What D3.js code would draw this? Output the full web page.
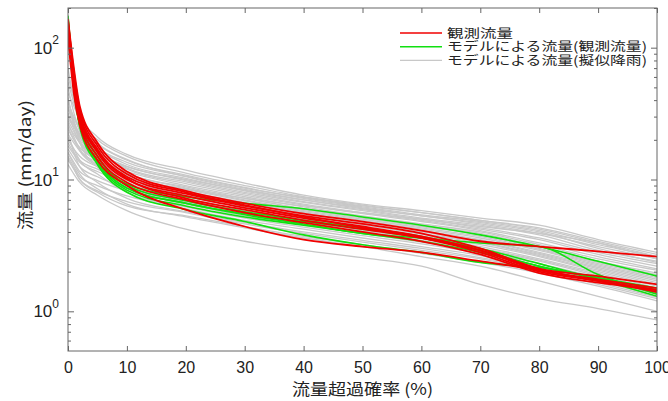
<!DOCTYPE html>
<html>
<head>
<meta charset="utf-8">
<script src="https://cdn.jsdelivr.net/npm/d3@7"></script>
<style>
  body { margin: 0; background: #fff; }
  svg { display: block; }
</style>
</head>
<body>
<script>
"use strict"

// exceedance probability (%) grid used by every curve
var exceedance = [0, 1, 2, 5, 10, 20, 30, 40, 50, 60, 70, 80, 90, 100];

// observed flow (mm/day)
var observed = [
  [165, 70, 36, 19, 11.5, 8.2, 6.6, 5.5, 4.8, 4.1, 3.4, 3.1, 2.85, 2.6],
  [150, 60, 32, 17, 10.5, 7.8, 6.3, 5.3, 4.6, 3.9, 3.0, 2.1, 1.7, 1.45],
  [140, 55, 30, 16, 10.0, 7.5, 6.1, 5.1, 4.4, 3.7, 2.9, 2.05, 1.75, 1.5],
  [160, 65, 34, 18, 11.0, 8.0, 6.4, 5.2, 4.3, 3.6, 2.8, 2.0, 1.7, 1.4],
  [130, 50, 28, 15, 9.5, 7.0, 5.6, 4.7, 4.0, 3.4, 2.7, 1.95, 1.65, 1.45],
  [120, 45, 26, 14, 9.0, 5.9, 4.4, 3.5, 3.1, 2.8, 2.4, 2.05, 1.7, 1.45],
  [145, 58, 30, 16.5, 10.2, 7.2, 5.9, 4.9, 4.2, 3.6, 2.9, 2.1, 1.85, 1.6]
];

// model flow driven by observed rainfall
var modelObs = [
  [170, 55, 28, 15, 9.2, 7.4, 6.6, 6.0, 5.2, 4.5, 3.8, 3.1, 2.4, 1.85],
  [150, 50, 26, 14, 8.6, 6.6, 5.4, 4.6, 3.9, 3.6, 3.3, 3.1, 1.9, 1.35],
  [150, 50, 25, 13, 8.0, 5.9, 4.8, 3.8, 3.2, 2.8, 2.35, 2.15, 1.8, 1.45],
  [160, 52, 27, 14, 8.6, 6.6, 5.5, 4.8, 4.2, 3.6, 2.9, 2.2, 1.8, 1.5],
  [175, 58, 29, 15, 9.0, 6.9, 5.7, 4.9, 4.3, 3.7, 3.0, 2.3, 1.75, 1.3],
  [155, 48, 26, 13.5, 8.3, 6.3, 5.2, 4.5, 3.9, 3.4, 2.8, 2.2, 1.75, 1.4]
];

// model flow driven by synthetic rainfall
var modelSyn = [
  [60, 42, 31, 21, 15.5, 11.8, 9.4, 7.6, 6.5, 5.8, 5.1, 4.5, 3.5, 2.8],
  [45, 36, 28, 20, 15, 11.2, 9.0, 7.4, 6.4, 5.6, 4.9, 4.3, 3.4, 2.7],
  [38, 30, 25, 18.5, 14, 10.8, 8.7, 7.2, 6.2, 5.4, 4.8, 4.1, 3.2, 2.6],
  [55, 38, 28, 19, 14.2, 10.5, 8.4, 7.0, 6.0, 5.3, 4.6, 3.9, 3.1, 2.5],
  [30, 26, 22, 17, 13, 10.2, 8.2, 6.8, 5.9, 5.1, 4.5, 3.8, 2.9, 2.4],
  [26, 22, 19, 15.5, 12.5, 9.8, 8.0, 6.7, 5.8, 5.0, 4.3, 3.6, 2.8, 2.3],
  [70, 40, 27, 17, 12.2, 9.6, 7.8, 6.5, 5.6, 4.9, 4.2, 3.5, 2.7, 2.2],
  [34, 27, 22, 16, 12, 9.3, 7.6, 6.4, 5.5, 4.8, 4.1, 3.3, 2.6, 2.1],
  [24, 20, 17.5, 14, 11.5, 9.0, 7.4, 6.2, 5.3, 4.6, 4.0, 3.2, 2.5, 2.05],
  [40, 28, 21, 15, 11.2, 8.8, 7.2, 6.0, 5.2, 4.5, 3.9, 3.1, 2.4, 1.95],
  [22, 19, 16.5, 13.5, 11, 8.6, 7.0, 5.9, 5.1, 4.4, 3.8, 3.0, 2.35, 1.9],
  [50, 32, 23, 15, 10.8, 8.4, 6.9, 5.8, 5.0, 4.3, 3.7, 2.95, 2.3, 1.85],
  [28, 23, 19, 14, 10.5, 8.2, 6.7, 5.7, 4.9, 4.2, 3.6, 2.9, 2.25, 1.8],
  [20, 17, 15, 12.5, 10.2, 8.0, 6.6, 5.6, 4.8, 4.1, 3.5, 2.8, 2.2, 1.75],
  [36, 26, 20, 14, 10, 7.8, 6.4, 5.4, 4.7, 4.0, 3.45, 2.75, 2.15, 1.7],
  [19, 16, 14, 12, 9.8, 7.6, 6.2, 5.3, 4.6, 3.9, 3.35, 2.7, 2.1, 1.65],
  [32, 24, 19, 13.5, 9.6, 7.4, 6.1, 5.2, 4.5, 3.85, 3.3, 2.65, 2.05, 1.6],
  [18, 15.5, 13.5, 11.5, 9.3, 7.2, 5.9, 5.0, 4.35, 3.75, 3.2, 2.6, 2.0, 1.55],
  [25, 20, 16.5, 12.5, 9.0, 7.0, 5.8, 4.9, 4.25, 3.65, 3.1, 2.5, 1.95, 1.5],
  [17, 14.5, 12.5, 10.5, 8.6, 6.8, 5.6, 4.75, 4.1, 3.55, 3.0, 2.45, 1.9, 1.45],
  [42, 27, 19, 12.5, 8.8, 6.7, 5.5, 4.6, 4.0, 3.45, 2.95, 2.4, 1.85, 1.42],
  [16, 13.5, 11.5, 9.8, 8.2, 6.5, 5.3, 4.5, 3.9, 3.35, 2.85, 2.3, 1.8, 1.38],
  [21, 17, 14, 11, 8.0, 6.2, 5.1, 4.35, 3.75, 3.25, 2.75, 2.2, 1.75, 1.35],
  [15, 12.5, 10.5, 9.0, 7.5, 6.0, 4.9, 4.2, 3.6, 3.1, 2.65, 2.15, 1.7, 1.3],
  [14, 12, 10, 8.2, 6.8, 5.6, 4.6, 3.9, 3.35, 2.9, 2.5, 2.05, 1.6, 1.25],
  [23, 16, 12.5, 9.5, 7.2, 5.7, 4.7, 4.0, 3.45, 3.0, 2.55, 2.1, 1.65, 1.28],
  [14.5, 12, 10, 8, 6.3, 5.3, 4.4, 3.7, 3.2, 2.75, 2.35, 1.95, 1.55, 1.2],
  [27, 21, 17, 13, 10.4, 8.5, 7.2, 6.3, 5.6, 5.0, 4.4, 3.9, 3.3, 2.6],
  [35, 29, 24, 17.5, 13.5, 10.6, 8.6, 7.3, 6.3, 5.6, 4.9, 4.2, 3.3, 2.5],
  [29, 25, 21, 16, 12.6, 10, 8.3, 7.0, 6.1, 5.3, 4.7, 4.0, 3.0, 2.35],
  [16, 13, 11, 8.5, 6.5, 5.2, 4.3, 3.6, 3.1, 2.6, 2.2, 1.7, 1.3, 1.0],
  [13, 11, 9.5, 7.6, 5.8, 4.2, 3.4, 2.9, 2.55, 2.2, 1.6, 1.25, 1.05, 0.86]
];

var legendLabels = ["観測流量", "モデルによる流量(観測流量)", "モデルによる流量(擬似降雨)"];
var legendWidths = [66, 200, 200];
var legendColors = ["#f00000", "#10e010", "#c8c8c8"];
var xTicks = [0, 10, 20, 30, 40, 50, 60, 70, 80, 90, 100];
var yTicks = [1, 10, 100];
var yMinor = [0.6, 0.7, 0.8, 0.9, 2, 3, 4, 5, 6, 7, 8, 9, 20, 30, 40, 50, 60, 70, 80, 90, 200];

var width = 668, height = 401;
var plotL = 68, plotR = 657, plotT = 8, plotB = 351;
var numFont = "'Liberation Sans Narrow', 'Arial Narrow', 'Liberation Sans', sans-serif";
var cjkFont = "'Noto Sans CJK JP', sans-serif";

var svg = d3.select("body").append("svg")
            .attr("width", width)
            .attr("height", height);

var x = d3.scaleLinear().domain([0, 100]).range([plotL, plotR]);
var y = d3.scaleLog().domain([0.5, 200]).range([plotB, plotT]);

svg.append("clipPath").attr("id", "plot")
   .append("rect")
   .attr("x", plotL).attr("y", plotT)
   .attr("width", plotR - plotL).attr("height", plotB - plotT);

var line = d3.line()
             .x(function(d, i) { return x(exceedance[i]); })
             .y(function(d) { return y(d); })
             .curve(d3.curveMonotoneX);

var curves = svg.append("g").attr("clip-path", "url(#plot)").attr("fill", "none");

curves.selectAll(".syn").data(modelSyn).enter().append("path")
      .attr("class", "syn")
      .attr("d", line)
      .attr("stroke", legendColors[2])
      .attr("stroke-width", 1.3);

curves.selectAll(".mod").data(modelObs).enter().append("path")
      .attr("class", "mod")
      .attr("d", line)
      .attr("stroke", legendColors[1])
      .attr("stroke-width", 1.6);

curves.selectAll(".obs").data(observed).enter().append("path")
      .attr("class", "obs")
      .attr("d", line)
      .attr("stroke", legendColors[0])
      .attr("stroke-width", 1.8);

// frame
svg.append("rect")
   .attr("x", plotL).attr("y", plotT)
   .attr("width", plotR - plotL).attr("height", plotB - plotT)
   .attr("fill", "none")
   .attr("stroke", "#666")
   .attr("stroke-width", 1);

function styleAxis(g) {
  g.select(".domain").remove();
  g.selectAll(".tick line").attr("stroke", "#666");
}

// x axes (ticks point inward)
svg.append("g")
   .attr("transform", "translate(0," + plotB + ")")
   .call(d3.axisBottom(x).tickValues(xTicks).tickSizeInner(-5).tickSizeOuter(0).tickPadding(11))
   .call(styleAxis)
   .selectAll("text")
   .attr("font-family", numFont)
   .attr("font-size", 16)
   .attr("fill", "#222");

svg.append("g")
   .attr("transform", "translate(0," + plotT + ")")
   .call(d3.axisTop(x).tickValues(xTicks).tickSizeInner(-5).tickSizeOuter(0).tickFormat(""))
   .call(styleAxis);

// y axes, major and minor
var yLeft = svg.append("g")
   .attr("transform", "translate(" + plotL + ",0)")
   .call(d3.axisLeft(y).tickValues(yTicks).tickSizeInner(-6).tickSizeOuter(0).tickPadding(9))
   .call(styleAxis);

yLeft.selectAll(".tick text").each(function(d) {
  var t = d3.select(this).text("")
            .attr("font-family", numFont)
            .attr("fill", "#222")
            .attr("dy", "0.55em");
  t.append("tspan").attr("font-size", 17).text("10");
  t.append("tspan").attr("font-size", 12).attr("dy", "-0.8em").text(Math.round(Math.log10(d)));
});

svg.append("g")
   .attr("transform", "translate(" + plotL + ",0)")
   .call(d3.axisLeft(y).tickValues(yMinor).tickSizeInner(-3).tickSizeOuter(0).tickFormat(""))
   .call(styleAxis);

svg.append("g")
   .attr("transform", "translate(" + plotR + ",0)")
   .call(d3.axisRight(y).tickValues(yTicks).tickSizeInner(-6).tickSizeOuter(0).tickFormat(""))
   .call(styleAxis);

svg.append("g")
   .attr("transform", "translate(" + plotR + ",0)")
   .call(d3.axisRight(y).tickValues(yMinor).tickSizeInner(-3).tickSizeOuter(0).tickFormat(""))
   .call(styleAxis);

// axis titles (glyphs in the original are wide and flat, so stretch to length)
svg.append("text")
   .attr("x", (plotL + plotR) / 2)
   .attr("y", 395)
   .attr("text-anchor", "middle")
   .attr("font-family", cjkFont)
   .attr("font-size", 16)
   .attr("textLength", 141)
   .attr("lengthAdjust", "spacingAndGlyphs")
   .attr("fill", "#222")
   .text("流量超過確率 (%)");

svg.append("text")
   .attr("transform", "translate(31,165) rotate(-90)")
   .attr("text-anchor", "middle")
   .attr("font-family", cjkFont)
   .attr("font-size", 16)
   .attr("textLength", 130)
   .attr("lengthAdjust", "spacingAndGlyphs")
   .attr("fill", "#222")
   .text("流量 (mm/day)");

// legend
var legend = svg.append("g").attr("transform", "translate(400,33)");
legendLabels.forEach(function(label, i) {
  legend.append("line")
        .attr("x1", 0).attr("x2", 42)
        .attr("y1", i * 13.7).attr("y2", i * 13.7)
        .attr("stroke", legendColors[i])
        .attr("stroke-width", i == 2 ? 1.3 : 1.6);
  legend.append("text")
        .attr("x", 47).attr("y", i * 13.7)
        .attr("dy", "0.38em")
        .attr("font-family", cjkFont)
        .attr("font-size", 12.5)
        .attr("textLength", legendWidths[i])
        .attr("lengthAdjust", "spacingAndGlyphs")
        .attr("fill", "#222")
        .text(label);
});
</script>
</body>
</html>
